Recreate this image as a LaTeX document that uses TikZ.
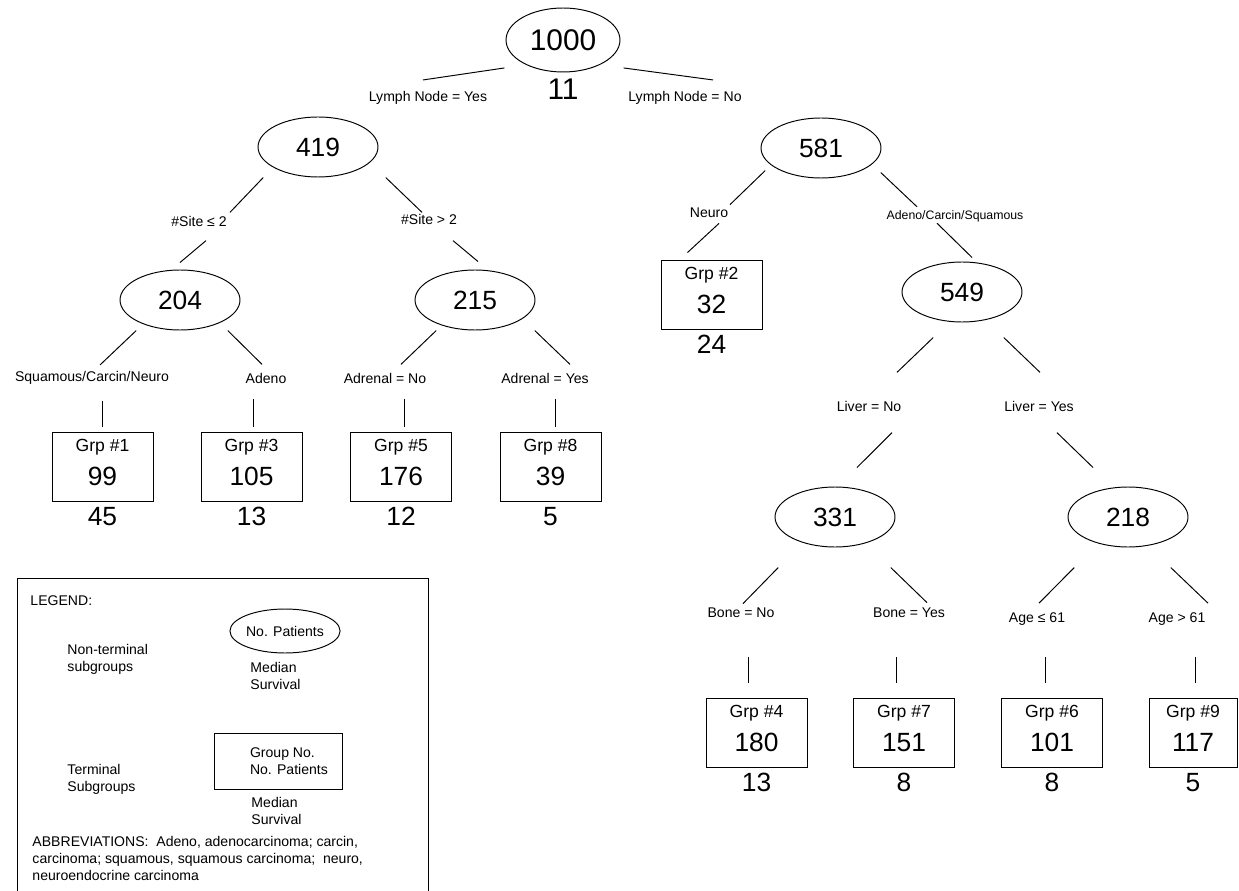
\documentclass[tikz,border=0pt]{standalone}
\usepackage{fontspec}
\setmainfont{Liberation Sans}
\usepackage{tikz}
\usetikzlibrary{positioning,shapes.geometric}
\newcommand{\numfont}{\fontsize{15}{19.5}\selectfont}

\begin{document}
\begin{tikzpicture}[x=0.02cm,y=-0.02cm,line width=0.55pt,
  ov/.style={draw,ellipse,inner sep=0pt,minimum width=2.4cm,minimum height=1.2cm,font=\numfont},
  bx/.style={draw,inner sep=0pt,minimum width=2.02cm,minimum height=1.38cm,align=center,
    font=\fontsize{10}{19.5}\selectfont,execute at end node={\rule[-5pt]{0pt}{5pt}}},
  lb/.style={inner sep=0pt,font=\fontsize{8}{9.6}\selectfont},
  md/.style={inner sep=0pt,font=\numfont},
  lt/.style={inner sep=0pt,align=left,font=\fontsize{8}{9.7}\selectfont}]
  \useasboundingbox (0,0) rectangle (1239,891);
  \node[ov,minimum width=2.28cm,minimum height=1.28cm,font=\fontsize{17}{20}\selectfont] (root) at (563,40) {1000};
  \node[md,font=\fontsize{17}{20}\selectfont,below=3.5pt of root] (m0) {11};
  \node[lb] (ly) at (428,98) {Lymph Node = Yes};
  \node[lb] (ln) at (685,98) {Lymph Node = No};
  \node[ov] (n419) at (318,147) {419};
  \node[ov] (n581) at (821,148) {581};
  \node[lb] (s1) at (199,221) {\#Site ≤ 2};
  \node[lb] (s2) at (429,219) {\#Site > 2};
  \node[lb] (neu) at (709,213) {Neuro};
  \node[lb,font=\fontsize{7}{8.4}\selectfont] (acs) at (955,216) {Adeno/Carcin/Squamous};
  \node[ov] (n204) at (180,300) {204};
  \node[ov] (n215) at (475,300) {215};
  \node[bx] (g2) at (711.5,294.5) {Grp \#2\\{\numfont 32}};
  \node[md,below=3pt of g2] (m2) {24};
  \node[ov] (n549) at (962,292) {549};
  \node[lb] (l1) at (92,378) {Squamous/Carcin/Neuro};
  \node[lb] (l2) at (266,378) {Adeno};
  \node[lb] (l3) at (385,378) {Adrenal = No};
  \node[lb] (l4) at (545,378) {Adrenal = Yes};
  \node[bx] (g1) at (102.5,466.5) {Grp \#1\\{\numfont 99}};
  \node[bx] (g3) at (251.5,466.5) {Grp \#3\\{\numfont 105}};
  \node[bx] (g5) at (401,466.5) {Grp \#5\\{\numfont 176}};
  \node[bx] (g8) at (550.5,466.5) {Grp \#8\\{\numfont 39}};
  \node[md,below=3pt of g1] (m1) {45};
  \node[md,below=3pt of g3] (m3) {13};
  \node[md,below=3pt of g5] (m5) {12};
  \node[md,below=3pt of g8] (m8) {5};
  \node[lb] (lvn) at (869,406) {Liver = No};
  \node[lb] (lvy) at (1039,406) {Liver = Yes};
  \node[ov] (n331) at (835,517) {331};
  \node[ov] (n218) at (1128,517) {218};
  \node[lb] (bn) at (741,613) {Bone = No};
  \node[lb] (by) at (909,613) {Bone = Yes};
  \node[lb] (al) at (1037,619) {Age ≤ 61};
  \node[lb] (ag) at (1177,619) {Age > 61};
  \node[bx] (g4) at (756.5,732.5) {Grp \#4\\{\numfont 180}};
  \node[bx] (g7) at (904,732.5) {Grp \#7\\{\numfont 151}};
  \node[bx] (g6) at (1052,732.5) {Grp \#6\\{\numfont 101}};
  \node[bx,minimum width=1.76cm] (g9) at (1193,732.5) {Grp \#9\\{\numfont 117}};
  \node[md,below=3pt of g4] (m4) {13};
  \node[md,below=3pt of g7] (m7) {8};
  \node[md,below=3pt of g6] (m6) {8};
  \node[md,below=3pt of g9] (m9) {5};
  \draw([shift={(-18,5)}]root.south west)--([shift={(-5,-11)}]ly.north);
  \draw([shift={(20,5)}]root.south east)--([shift={(28,-11)}]ln.north);
  \draw([shift={(-12,9)}]n419.south west)--([shift={(31,-3)}]s1.north);
  \draw([shift={(25,9)}]n419.south east)--([shift={(-7,-1)}]s2.north);
  \draw([shift={(7,14)}]s1.south)--([shift={(0,-7)}]n204.north);
  \draw([shift={(24,16)}]s2.south)--([shift={(3,-8)}]n215.north);
  \draw([shift={(-1,9)}]n204.south west)--([shift={(8,-6)}]l1.north);
  \draw([shift={(5,9)}]n204.south east)--([shift={(-4,-8)}]l2.north);
  \draw([shift={(4,9)}]n215.south west)--([shift={(16,-8)}]l3.north);
  \draw([shift={(17,9)}]n215.south east)--([shift={(25,-8)}]l4.north);
  \draw([shift={(-13,1)}]n581.south west)--([shift={(21,-3)}]neu.north);
  \draw([shift={(10,5)}]neu.south)--([shift={(-24,-7)}]g2.north);
  \draw([shift={(17,3)}]n581.south east)--([shift={(-38,-3)}]acs.north);
  \draw([shift={(-18,1)}]acs.south)--([shift={(10,-4)}]n549.north);
  \draw([shift={(14,24)}]n549.south west)--([shift={(28,-28)}]lvn.north);
  \draw([shift={(-1,24)}]n549.south east)--([shift={(1,-28)}]lvy.north);
  \draw([shift={(23,21)}]lvn.south)--([shift={(22,-19)}]n331.north);
  \draw([shift={(18,21)}]lvy.south)--([shift={(-35,-19)}]n218.north);
  \draw([shift={(-14,29)}]n331.south west)--([shift={(2,-4)}]bn.north);
  \draw([shift={(13,29)}]n331.south east)--([shift={(18,-5)}]by.north);
  \draw([shift={(-11,29)}]n218.south west)--([shift={(2,-9)}]al.north);
  \draw([shift={(0,29)}]n218.south east)--([shift={(31,-9)}]ag.north);
  \draw[shorten <=9pt,shorten >=2.3pt](l1.south -| g1.north)--(g1.north);
  \draw[shorten <=9pt,shorten >=2.3pt]([xshift=0.03cm]l2.south -| g3.north)--([xshift=0.03cm]g3.north);
  \draw[shorten <=9pt,shorten >=2.3pt]([xshift=0.06cm]l3.south -| g5.north)--([xshift=0.06cm]g5.north);
  \draw[shorten <=9pt,shorten >=2.3pt]([xshift=0.09cm]l4.south -| g8.north)--([xshift=0.09cm]g8.north);
  \draw[shorten <=22pt,shorten >=8.5pt]([xshift=-0.16cm]bn.south -| g4.north)--([xshift=-0.16cm]g4.north);
  \draw[shorten <=22pt,shorten >=8.5pt]([xshift=-0.16cm]by.south -| g7.north)--([xshift=-0.16cm]g7.north);
  \draw[shorten <=18pt,shorten >=8.5pt]([xshift=-0.14cm]al.south -| g6.north)--([xshift=-0.14cm]g6.north);
  \draw[shorten <=18pt,shorten >=8.5pt]([xshift=0.04cm]ag.south -| g9.north)--([xshift=0.04cm]g9.north);
  \draw (17,578) rectangle (428,900);
  \node[lt,anchor=west] (lgd) at (30,601) {LEGEND:};
  \node[lt,draw,ellipse,minimum width=2.12cm,minimum height=0.88cm] (lge) at (285,631) {No. Patients};
  \node[lt,anchor=west] (lnt) at (67,659) {Non-terminal\\subgroups};
  \node[lt,anchor=north west] (lms1) at (250,662) {Median\\Survival};
  \node[draw,inner sep=0pt,minimum width=2.56cm,minimum height=1.12cm] (lgr) at (278,761) {};
  \node[lt,right=0.72cm of lgr.west] (lgt) {Group No.\\No. Patients};
  \node[lt,anchor=west] (ltm) at (67,779) {Terminal\\Subgroups};
  \node[lt,anchor=north west] (lms2) at (251,797) {Median\\Survival};
  \node[lt,anchor=north west] (lab) at (32,836) {ABBREVIATIONS:\ \ Adeno, adenocarcinoma; carcin,\\carcinoma; squamous, squamous carcinoma;\ \ neuro,\\neuroendocrine carcinoma};
\end{tikzpicture}
\end{document}
